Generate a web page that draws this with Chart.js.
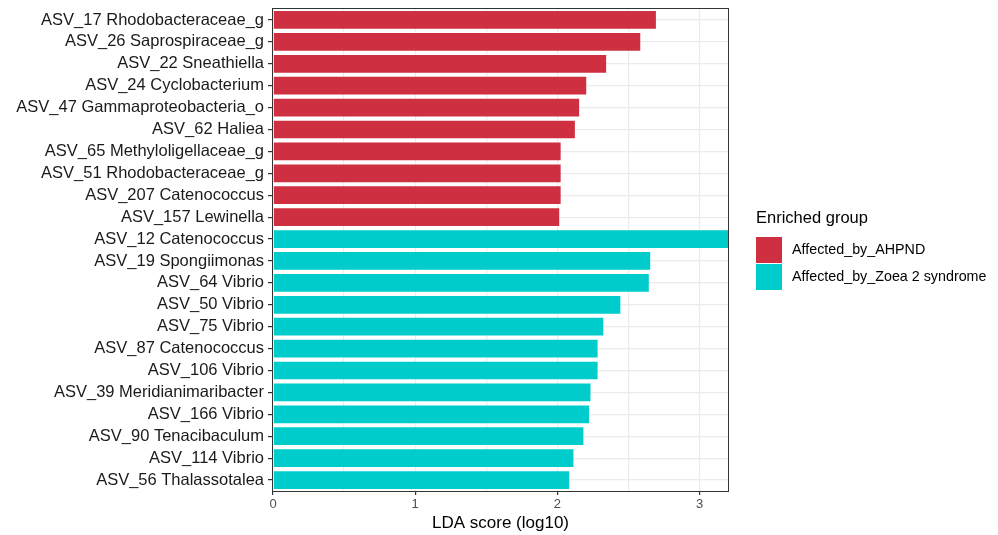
<!DOCTYPE html>
<html>
<head>
<meta charset="utf-8">
<script src="https://cdn.jsdelivr.net/npm/chart.js@4.4.1/dist/chart.umd.min.js"></script>
<style>
  html, body { margin: 0; padding: 0; background: #ffffff; }
  #wrap { width: 998px; height: 535px; position: relative; }
</style>
</head>
<body>
<div id="wrap"><canvas id="lda" width="998" height="535"></canvas></div>
<script>
// Taxa ordered top to bottom
const categories = [
  "ASV_17 Rhodobacteraceae_g",
  "ASV_26 Saprospiraceae_g",
  "ASV_22 Sneathiella",
  "ASV_24 Cyclobacterium",
  "ASV_47 Gammaproteobacteria_o",
  "ASV_62 Haliea",
  "ASV_65 Methyloligellaceae_g",
  "ASV_51 Rhodobacteraceae_g",
  "ASV_207 Catenococcus",
  "ASV_157 Lewinella",
  "ASV_12 Catenococcus",
  "ASV_19 Spongiimonas",
  "ASV_64 Vibrio",
  "ASV_50 Vibrio",
  "ASV_75 Vibrio",
  "ASV_87 Catenococcus",
  "ASV_106 Vibrio",
  "ASV_39 Meridianimaribacter",
  "ASV_166 Vibrio",
  "ASV_90 Tenacibaculum",
  "ASV_114 Vibrio",
  "ASV_56 Thalassotalea"
];

const groupNames = ["Affected_by_AHPND", "Affected_by_Zoea 2 syndrome"];
const groupColors = ["#CE2F41", "#00CCCC"];

// LDA scores (log10) per enriched group
const ahpndScores = [2.70, 2.59, 2.35, 2.21, 2.16, 2.13, 2.03, 2.03, 2.03, 2.02];
const zoeaScores = [3.35, 2.66, 2.65, 2.45, 2.33, 2.29, 2.29, 2.24, 2.23, 2.19, 2.12, 2.09];

const xTickValues = [0, 0.5, 1, 1.5, 2, 2.5, 3];
const xMax = 3.2;

const FONT = "'Liberation Sans', Arial, sans-serif";

const ahpndData = ahpndScores.concat(new Array(zoeaScores.length).fill(null));
const zoeaData = new Array(ahpndScores.length).fill(null).concat(zoeaScores);

// Panel border drawn around the plotting area
const panelBorder = {
  id: 'panelBorder',
  afterDatasetsDraw(chart) {
    const { ctx, chartArea: a } = chart;
    ctx.save();
    ctx.strokeStyle = '#333333';
    ctx.lineWidth = 1;
    ctx.strokeRect(a.left - 0.5, a.top - 0.5, a.right - a.left + 1, a.bottom - a.top + 1);
    ctx.restore();
  }
};

// Legend with title and square keys on the right side
const groupLegend = {
  id: 'groupLegend',
  afterDraw(chart) {
    const { ctx } = chart;
    ctx.save();
    ctx.textBaseline = 'middle';
    ctx.textAlign = 'left';
    ctx.fillStyle = '#000000';
    ctx.font = "16.5px " + FONT;
    ctx.fillText('Enriched group', 756, 218);
    chart.data.datasets.forEach((ds, i) => {
      const y = 237 + i * 27;
      ctx.fillStyle = ds.backgroundColor;
      ctx.fillRect(756, y, 26, 26);
      ctx.fillStyle = '#000000';
      ctx.font = "14.3px " + FONT;
      ctx.fillText(ds.label, 792, y + 13);
    });
    ctx.restore();
  }
};

new Chart(document.getElementById('lda'), {
  type: 'bar',
  data: {
    labels: categories,
    datasets: [
      {
        label: groupNames[0],
        data: ahpndData,
        backgroundColor: groupColors[0],
        borderColor: 'rgba(255,255,255,0.35)',
        borderWidth: 1,
        grouped: false,
        barPercentage: 1,
        categoryPercentage: 0.9
      },
      {
        label: groupNames[1],
        data: zoeaData,
        backgroundColor: groupColors[1],
        borderColor: 'rgba(255,255,255,0.35)',
        borderWidth: 1,
        grouped: false,
        barPercentage: 1,
        categoryPercentage: 0.9
      }
    ]
  },
  options: {
    indexAxis: 'y',
    responsive: false,
    animation: false,
    layout: { padding: { top: 9, right: 270, bottom: 0, left: 0 } },
    plugins: {
      legend: { display: false },
      tooltip: { enabled: false }
    },
    scales: {
      x: {
        type: 'linear',
        min: 0,
        max: xMax,
        afterBuildTicks(scale) {
          scale.ticks = xTickValues.map(v => ({ value: v }));
        },
        afterFit(scale) {
          scale.height = 44;
          scale.paddingLeft = 0;
          scale.paddingRight = 0;
        },
        border: { display: false },
        grid: {
          color: '#EBEBEB',
          lineWidth: 1.2,
          drawTicks: true,
          tickLength: 4,
          tickColor: ctx => (Number.isInteger(ctx.tick.value) ? '#333333' : 'rgba(0,0,0,0)')
        },
        ticks: {
          autoSkip: false,
          maxRotation: 0,
          padding: 2,
          color: '#4D4D4D',
          font: { family: FONT, size: 13 },
          callback: v => (Number.isInteger(v) ? String(v) : '')
        },
        title: {
          display: true,
          text: 'LDA score (log10)',
          color: '#000000',
          font: { family: FONT, size: 17 },
          padding: { top: 0, bottom: 1 }
        }
      },
      y: {
        type: 'category',
        afterFit(scale) {
          scale.width = 273;
          scale.paddingTop = 0;
          scale.paddingBottom = 0;
        },
        border: { display: false },
        grid: {
          offset: false,
          color: '#EBEBEB',
          lineWidth: 1.2,
          drawTicks: true,
          tickLength: 5,
          tickColor: '#333333'
        },
        ticks: {
          autoSkip: false,
          padding: 4,
          color: '#1A1A1A',
          font: { family: FONT, size: 16.5 }
        }
      }
    }
  },
  plugins: [panelBorder, groupLegend]
});
</script>
</body>
</html>
